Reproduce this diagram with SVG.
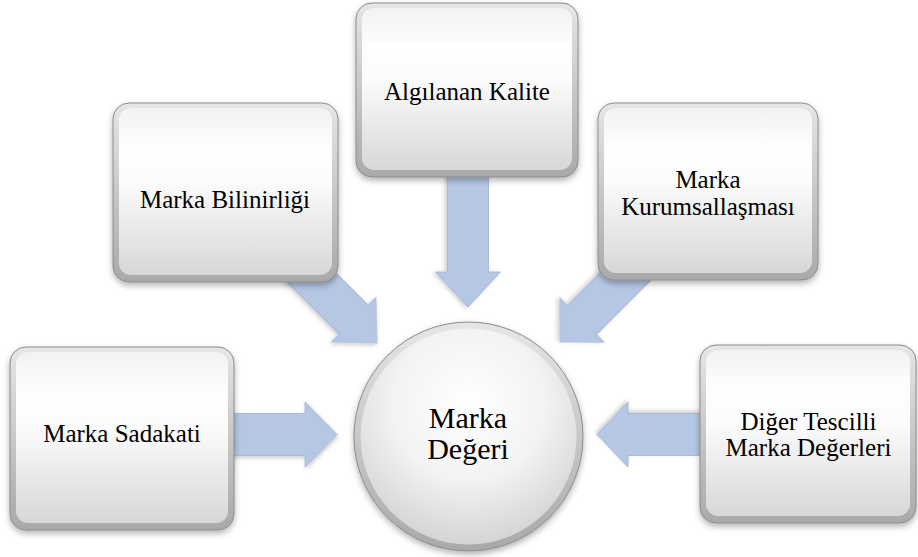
<svg xmlns="http://www.w3.org/2000/svg" width="918" height="557" viewBox="0 0 918 557">
<defs>
  <linearGradient id="outerG" x1="0" y1="0" x2="0" y2="1">
    <stop offset="0" stop-color="#e6e6e6"/>
    <stop offset="1" stop-color="#a9a9a9"/>
  </linearGradient>
  <linearGradient id="innerG" x1="0" y1="0" x2="0" y2="1">
    <stop offset="0" stop-color="#f2f2f2"/>
    <stop offset="0.25" stop-color="#ffffff"/>
    <stop offset="0.45" stop-color="#fbfbfb"/>
    <stop offset="1" stop-color="#d7d7d7"/>
  </linearGradient>
  <radialGradient id="circG" cx="0.5" cy="0.35" r="0.7">
    <stop offset="0" stop-color="#ffffff"/>
    <stop offset="0.5" stop-color="#f3f3f3"/>
    <stop offset="1" stop-color="#cfcfcf"/>
  </radialGradient>
  <filter id="sh" x="-10%" y="-10%" width="120%" height="130%">
    <feDropShadow dx="0" dy="3" stdDeviation="3" flood-color="#000" flood-opacity="0.3"/>
  </filter>
  <filter id="ash" x="-10%" y="-10%" width="130%" height="130%">
    <feDropShadow dx="1" dy="2" stdDeviation="2" flood-color="#000" flood-opacity="0.2"/>
  </filter>
</defs>
<style>
  .outer { fill: url(#outerG); stroke: #8a8a8a; stroke-width: 1; filter: url(#sh); }
  .inner { fill: url(#innerG); stroke: none; }
  .lbl { font-family: 'Liberation Serif', 'Tinos', 'Noto Serif', 'FreeSerif', 'Nimbus Roman', 'Nimbus Roman No9 L', 'Times', 'DejaVu Serif', serif; font-size: 25px; fill: #000; text-anchor: middle; }
  .big { font-size: 30px; }
  .arr { fill: #b6c7e4; stroke: #9db2d6; stroke-width: 0.8; filter: url(#ash); }
</style>
<rect width="918" height="557" fill="#ffffff"/>

<g id="connectors">
  <polygon class="arr" transform="translate(468,307) rotate(90)" points="0,0 -35,-32.5 -35,-20.5 -140,-20.5 -140,20.5 -35,20.5 -35,32.5"/>
  <polygon class="arr" transform="translate(377,343) rotate(45)" points="0,0 -33,-31.5 -33,-20.5 -125,-20.5 -125,20.5 -33,20.5 -33,31.5"/>
  <polygon class="arr" transform="translate(560,342) rotate(135)" points="0,0 -31,-31.5 -31,-20.5 -125,-20.5 -125,20.5 -31,20.5 -31,31.5"/>
  <polygon class="arr" transform="translate(337,434.5) rotate(0)" points="0,0 -32,-32.5 -32,-21 -115,-21 -115,21 -32,21 -32,32.5"/>
  <polygon class="arr" transform="translate(597,434.5) rotate(180)" points="0,0 -31,-32.5 -31,-21 -115,-21 -115,21 -31,21 -31,32.5"/>
</g>

<g id="node-kalite">
  <rect class="outer" x="356" y="3" width="222" height="174" rx="16"/>
  <rect class="inner" x="362" y="8" width="210" height="162" rx="12"/>
  <text class="lbl" x="467" y="100">Algılanan Kalite</text>
</g>

<g id="node-bilinirlik">
  <rect class="outer" x="113" y="103" width="225" height="179" rx="16"/>
  <rect class="inner" x="119" y="108" width="213" height="167" rx="12"/>
  <text class="lbl" x="225" y="208">Marka Bilinirliği</text>
</g>

<g id="node-kurumsal">
  <rect class="outer" x="598" y="103" width="220" height="177" rx="16"/>
  <rect class="inner" x="604" y="108" width="208" height="165" rx="12"/>
  <text class="lbl" x="708" y="188">Marka</text>
  <text class="lbl" x="708" y="215">Kurumsallaşması</text>
</g>

<g id="node-sadakat">
  <rect class="outer" x="10" y="347" width="224" height="183" rx="16"/>
  <rect class="inner" x="16" y="352" width="212" height="171" rx="12"/>
  <text class="lbl" x="122" y="442">Marka Sadakati</text>
</g>

<g id="node-diger">
  <rect class="outer" x="700" y="345" width="216" height="178" rx="16"/>
  <rect class="inner" x="706" y="350" width="204" height="166" rx="12"/>
  <text class="lbl" x="808.5" y="430">Diğer Tescilli</text>
  <text class="lbl" x="808.5" y="456">Marka Değerleri</text>
</g>

<g id="node-deger">
  <circle cx="468.5" cy="436.5" r="114.5" fill="url(#outerG)" stroke="#8a8a8a" stroke-width="1" filter="url(#sh)"/>
  <circle cx="468.5" cy="436.5" r="108" fill="url(#circG)"/>
  <text class="lbl big" x="468" y="428">Marka</text>
  <text class="lbl big" x="468" y="459">Değeri</text>
</g>
</svg>
